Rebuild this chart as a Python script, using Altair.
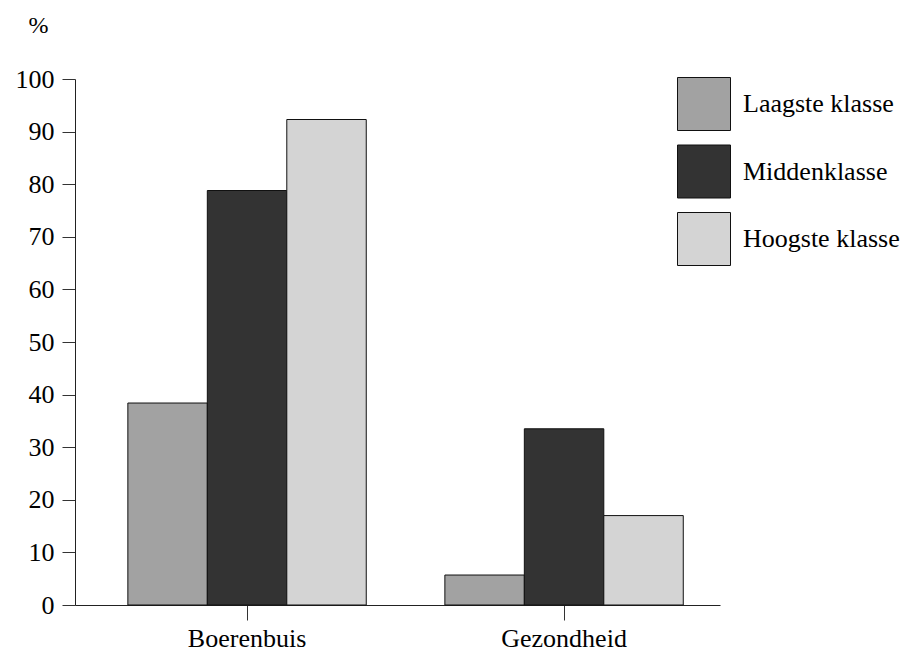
import altair as alt
import pandas as pd

categories = ["Boerenbuis", "Gezondheid"]
classes = ["Laagste klasse", "Middenklasse", "Hoogste klasse"]
laagste = [38.4, 5.7]
midden = [78.8, 33.5]
hoogste = [92.3, 17.0]
colors = ["#a2a2a2", "#333333", "#d4d4d4"]

rows = []
for i, c in enumerate(categories):
    for cls, vals in zip(classes, [laagste, midden, hoogste]):
        rows.append({"categorie": c, "klasse": cls, "waarde": vals[i]})
df = pd.DataFrame(rows)

FONT = "Liberation Serif"

chart = alt.Chart(df).mark_bar(stroke="#111111", strokeWidth=1).encode(
    x=alt.X("categorie:N", sort=categories,
            scale=alt.Scale(paddingInner=0.248, paddingOuter=0.1413, align=0.59),
            axis=alt.Axis(title=None, labelAngle=0, labelFont=FONT, labelFontSize=26,
                          labelColor="black", tickSize=15, tickColor="#333333",
                          domainColor="#222222", labelPadding=5)),
    xOffset=alt.XOffset("klasse:N", sort=classes,
                        scale=alt.Scale(paddingInner=0, paddingOuter=0)),
    y=alt.Y("waarde:Q", scale=alt.Scale(domain=[0, 100]),
            axis=alt.Axis(values=list(range(0, 101, 10)), title="%", titleAngle=0,
                          titleX=-37, titleY=-54, titleAlign="center",
                          titleBaseline="middle", titleFont=FONT, titleFontSize=24,
                          titleFontWeight="normal", titleColor="black",
                          labelFont=FONT, labelFontSize=26, labelColor="black",
                          tickSize=13, tickColor="#333333", domainColor="#222222",
                          labelPadding=8, grid=False)),
    color=alt.Color("klasse:N", sort=classes,
                    scale=alt.Scale(domain=classes, range=colors),
                    legend=alt.Legend(title=None, orient="none", legendX=602, legendY=-2,
                                      symbolType="square", symbolSize=2809,
                                      symbolStrokeColor="#111111", symbolStrokeWidth=1,
                                      symbolOpacity=1, labelFont=FONT, labelFontSize=26,
                                      labelColor="black", labelOffset=12, rowPadding=9.5)),
).properties(
    width=645, height=526,
    padding={"left": 67, "top": 71, "right": 181, "bottom": 47},
    autosize=alt.AutoSizeParams(type="none"),
    background="white",
).configure_view(stroke=None)

chart.save("out.html", embed_options={"renderer": "svg", "actions": False})
